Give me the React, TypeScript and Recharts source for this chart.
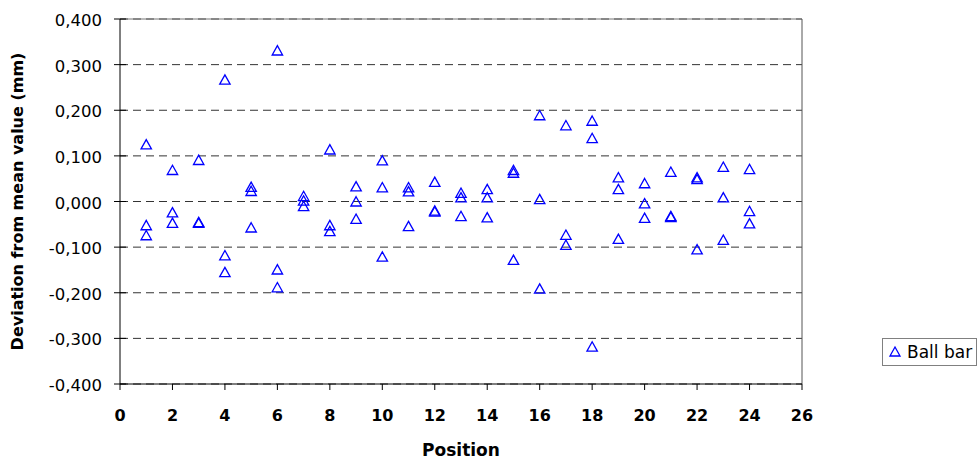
import { ScatterChart, Scatter, XAxis, YAxis, CartesianGrid, ReferenceLine, Legend } from "recharts";

const positions = [1, 2, 3, 4, 5, 6, 7, 8, 9, 10, 11, 12, 13, 14, 15, 16, 17, 18, 19, 20, 21, 22, 23, 24];
const runA = [0.125, 0.069, 0.091, 0.267, 0.032, 0.331, 0.012, 0.114, 0.033, 0.090, 0.031, 0.043, 0.019, 0.027, 0.069, 0.189, 0.167, 0.177, 0.053, 0.040, 0.065, 0.053, 0.076, 0.071];
const runB = [-0.052, -0.024, -0.045, -0.118, 0.023, -0.149, 0.002, -0.052, 0.000, 0.031, 0.022, -0.020, 0.009, 0.009, 0.063, 0.005, -0.073, 0.139, 0.027, -0.004, -0.032, 0.049, 0.009, -0.021];
const runC = [-0.074, -0.047, -0.047, -0.155, -0.057, -0.188, -0.010, -0.065, -0.038, -0.121, -0.054, -0.022, -0.032, -0.035, -0.128, -0.191, -0.095, -0.318, -0.082, -0.036, -0.034, -0.105, -0.084, -0.048];

const xTicks = [0, 2, 4, 6, 8, 10, 12, 14, 16, 18, 20, 22, 24, 26];
const yTicks = [-0.4, -0.3, -0.2, -0.1, 0, 0.1, 0.2, 0.3, 0.4];

const points = positions.flatMap((p, i) => [
  { x: p, y: runA[i] },
  { x: p, y: runB[i] },
  { x: p, y: runC[i] },
]);

const fmt = (v: number) => v.toFixed(3).replace(".", ",").replace("-0,000", "0,000");

const Tri = (props: any) => {
  const { cx, cy } = props;
  return (
    <path
      d={`M${cx},${cy - 4.8} L${cx + 5.2},${cy + 4.5} L${cx - 5.2},${cy + 4.5} Z`}
      fill="none"
      stroke="#0000ff"
      strokeWidth={1.3}
    />
  );
};

const YTick = ({ x, y, payload }: any) => (
  <g>
    <line x1={x + 12} x2={x + 24} y1={y} y2={y} stroke="#000" />
    <text x={x} y={y} dy={7} textAnchor="end" fontFamily="DejaVu Sans" fontSize={16.5} fill="#000">
      {fmt(payload.value)}
    </text>
  </g>
);

const LegendBox = () => (
  <div
    style={{
      border: "1px solid #808080",
      width: 95,
      height: 28,
      boxSizing: "border-box",
      display: "flex",
      alignItems: "center",
      fontFamily: "DejaVu Sans",
      fontSize: 17,
      color: "#000",
      background: "#fff",
    }}
  >
    <svg width={24} height={20}>
      <path d="M12,5 L17,14 L7,14 Z" fill="none" stroke="#0000ff" strokeWidth={1.3} />
    </svg>
    <span>Ball bar</span>
  </div>
);

export default function App() {
  return (
    <div style={{ position: "absolute", left: 0, top: 0, background: "#fff" }}>
      <ScatterChart width={979} height={461} margin={{ top: 19, right: 177, bottom: 0, left: 0 }}>
        <CartesianGrid vertical={false} strokeDasharray="8 5" stroke="#333" />
        <ReferenceLine y={0.4} stroke="#777" />
        <ReferenceLine x={26} stroke="#555" />
        <XAxis
          type="number"
          dataKey="x"
          domain={[0, 26]}
          ticks={xTicks}
          interval={0}
          height={77}
          stroke="#000"
          tickSize={6}
          tickMargin={19.5}
          tick={{ fontFamily: "DejaVu Sans", fontSize: 16, fontWeight: "bold", fill: "#000" }}
          label={{
            value: "Position",
            position: "insideBottom",
            offset: 5,
            style: { fontFamily: "DejaVu Sans", fontSize: 17, fontWeight: "bold", fill: "#000" },
          }}
        />
        <YAxis
          type="number"
          dataKey="y"
          domain={[-0.4, 0.4]}
          ticks={yTicks}
          interval={0}
          width={120}
          stroke="#000"
          tickLine={false}
          tickSize={6}
          tickMargin={12}
          tick={<YTick />}
          label={{
            value: "Deviation from mean value (mm)",
            angle: -90,
            position: "insideLeft",
            offset: 17,
            style: { textAnchor: "middle", fontFamily: "DejaVu Sans", fontSize: 16, fontWeight: "bold", fill: "#000" },
          }}
        />
        <Legend
          layout="horizontal"
          verticalAlign="middle"
          align="center"
          wrapperStyle={{ position: "absolute", left: 882, top: 338, width: 95, height: 28 }}
          content={() => <LegendBox />}
        />
        <Scatter name="Ball bar" data={points} shape={<Tri />} isAnimationActive={false} />
      </ScatterChart>
    </div>
  );
}
